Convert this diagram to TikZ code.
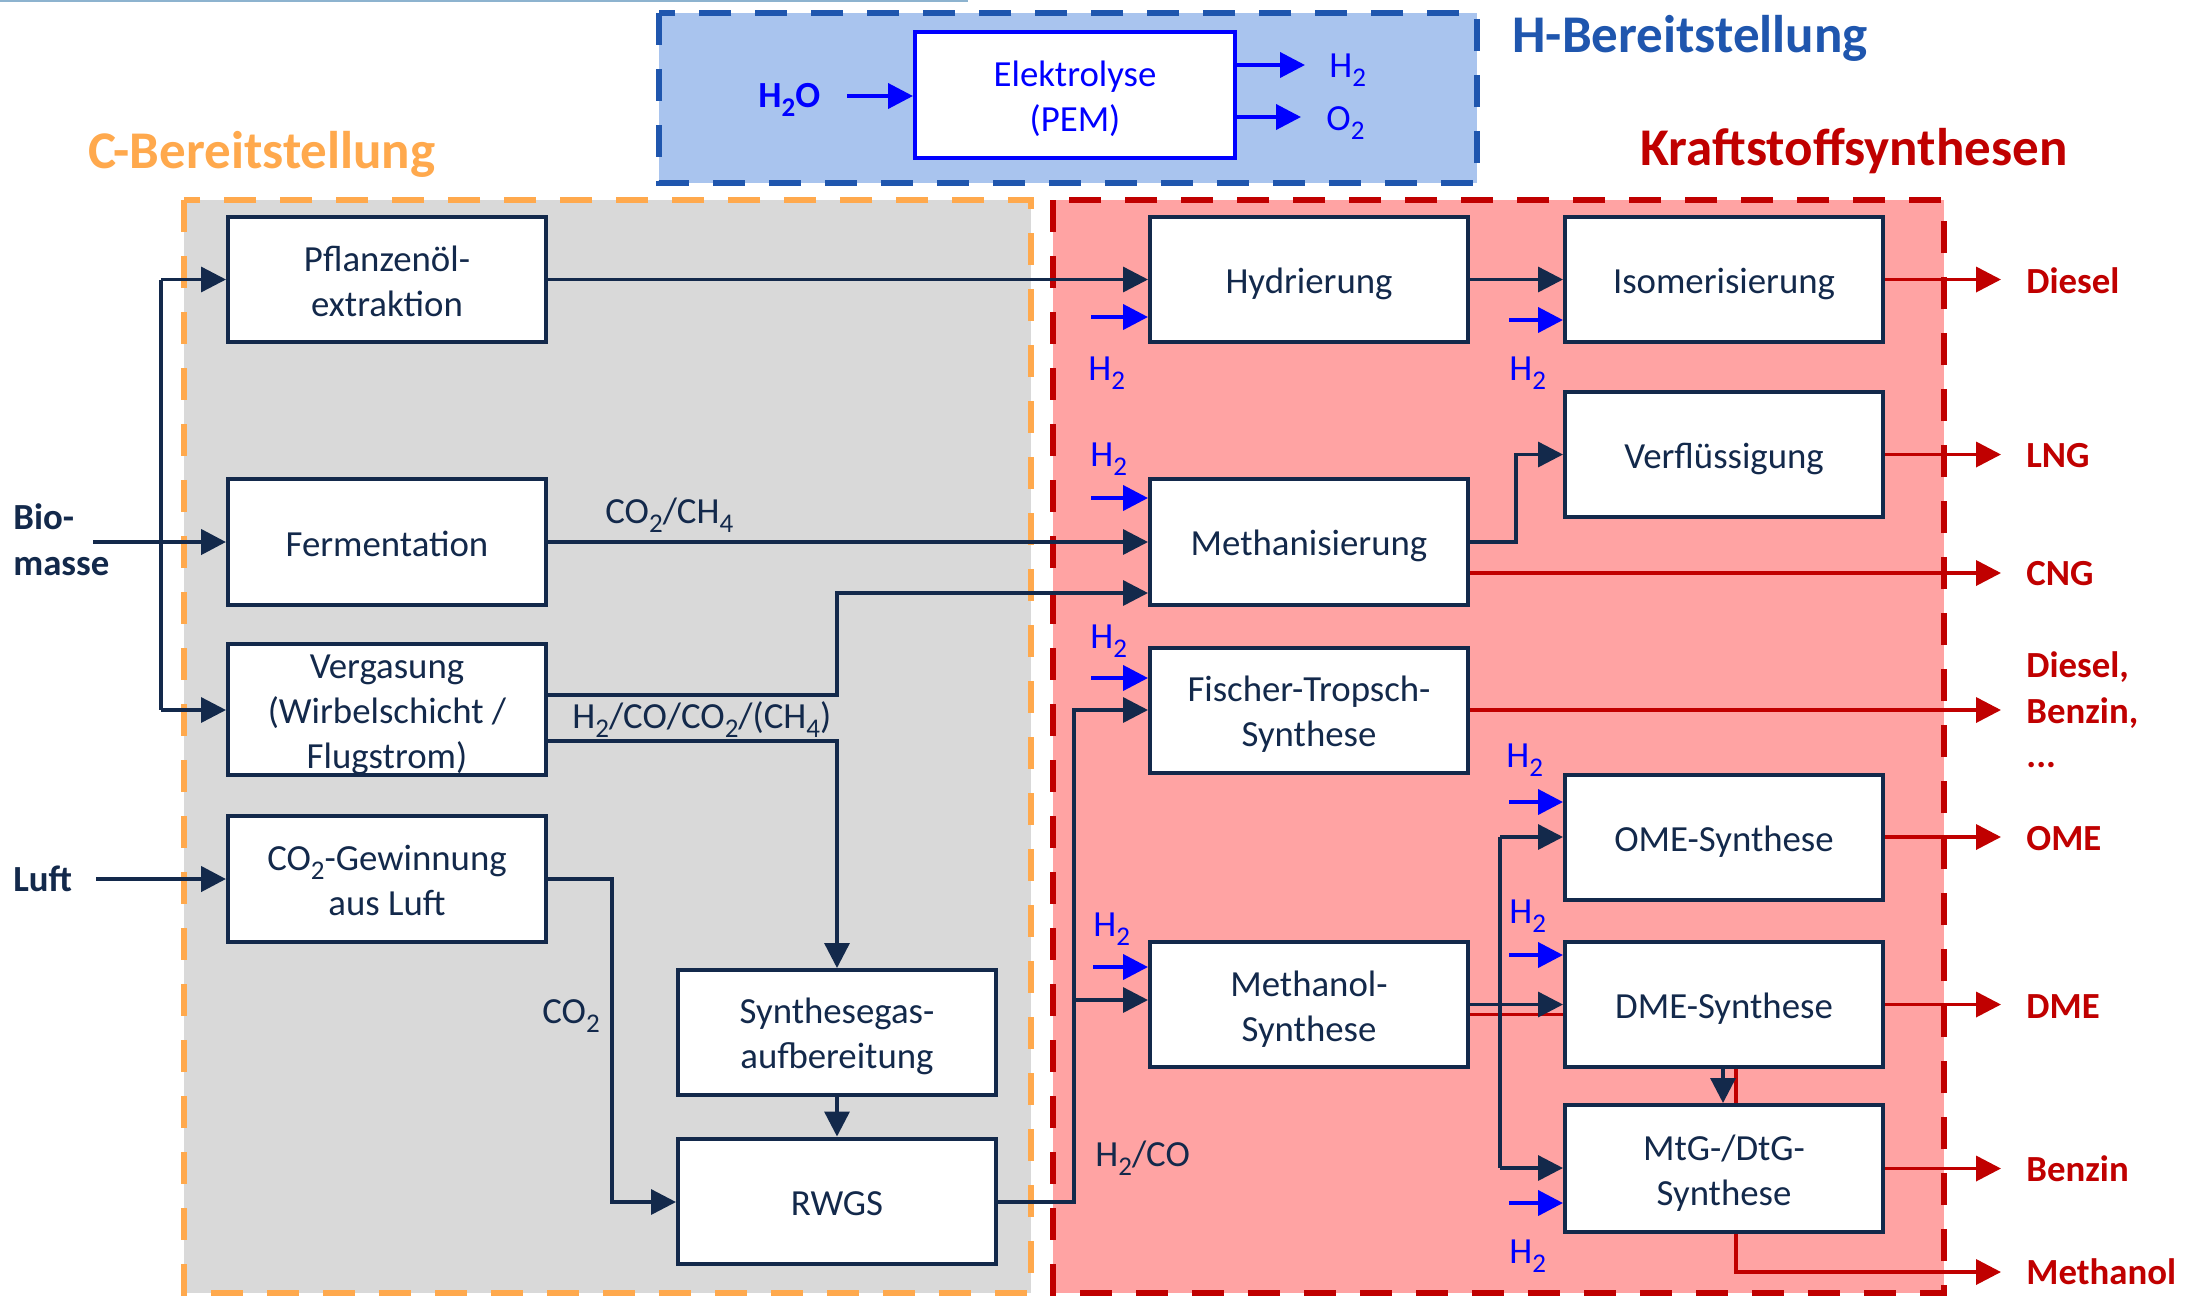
\documentclass[tikz,border=0pt]{standalone}
\usepackage{fontspec}
\setmainfont{Carlito}
\usetikzlibrary{arrows.meta,calc}
\definecolor{navy}{HTML}{13294B}
\definecolor{hblue}{HTML}{0000FF}
\definecolor{kred}{HTML}{C00000}
\definecolor{dblue}{HTML}{1F56AE}
\definecolor{lblue}{HTML}{A9C4EE}
\definecolor{corange}{HTML}{FFA94D}
\definecolor{cgray}{HTML}{D9D9D9}
\definecolor{cpink}{HTML}{FFA3A3}
\definecolor{topline}{HTML}{8DB3CF}
\newcommand\bxfont{\fontsize{18.4pt}{22.5pt}\selectfont}
\newcommand\ttlfont{\fontsize{26.5pt}{32pt}\selectfont\bfseries}
\newcommand\lowsub[1]{\raisebox{-4.5pt}{\fontsize{13.5pt}{13.5pt}\selectfont #1}}
\newcommand\tstrut{\rule{0pt}{17pt}}
\newcommand\bstrut{\rule[-3pt]{0pt}{3pt}}
\begin{document}
\begin{tikzpicture}[x=0.5pt,y=-0.5pt,
  tip/.tip={Triangle[length=12.5pt,width=12.5pt]},
  box/.style={draw=navy,line width=2pt,fill=white,minimum width=159pt,minimum height=62.5pt,inner sep=0pt,align=center,font=\bxfont,text=navy},
  frame/.style={line width=3pt,dash pattern=on 16pt off 12pt},
  con/.style={draw=navy,line width=1.7pt},
  arr/.style={con,-tip},
  inarr/.style={draw=navy,line width=2.25pt,-tip},
  h2arr/.style={draw=hblue,line width=2pt,-tip},
  outarr/.style={draw=kred,line width=1.8pt,-tip},
  redline/.style={draw=kred,line width=1.8pt},
  lbl/.style={anchor=base west,inner sep=0pt,font=\bxfont,text=navy},
  h2lbl/.style={lbl,text=hblue},
  blbl/.style={lbl,font=\bxfont\bfseries},
  outlbl/.style={lbl,font=\bxfont\bfseries,text=kred},
  ttl/.style={anchor=base west,inner sep=0pt,font=\ttlfont}]
\useasboundingbox (0,0) rectangle (2194,1297);
\fill[white] (0,0) rectangle (2194,1297);
\draw[topline,line width=1pt] (0,1) -- (968,1);
% containers
\path[fill=lblue,draw=dblue,frame] (659,13) rectangle (1477,183);
\path[fill=cgray,draw=corange,frame] (184,200) rectangle (1031,1293);
\path[fill=cpink,draw=kred,frame] (1053,200) rectangle (1944,1293);
% titles
\node[ttl,text=corange] (tc) at (88,168) {C-Bereitstellung};
\node[ttl,text=dblue] (th) at (1512,52) {H-Bereitstellung};
\node[ttl,text=kred] (tk) at (1640,165) {Kraftstoffsynthesen};
% boxes
\node[box,draw=hblue,text=hblue,minimum width=160pt,minimum height=63pt] (elek) at (1075,95) {\tstrut Elektrolyse\\(PEM)\bstrut};
\node[box] (pfl) at (387,279.5) {\tstrut Pflanzenöl-\\extraktion\bstrut};
\node[box,minimum height=63pt] (ferm) at (387,542) {\tstrut Fermentation\bstrut};
\node[box] (verg) at (387,709.5) {\tstrut Vergasung\\(Wirbelschicht /\\Flugstrom)\bstrut};
\node[box,minimum height=63pt] (co2g) at (387,879) {\tstrut CO\lowsub{2}-Gewinnung\\aus Luft\bstrut};
\node[box] (syng) at (837,1032.5) {\tstrut Synthesegas-\\aufbereitung\bstrut};
\node[box] (rwgs) at (837,1201) {\tstrut RWGS\bstrut};
\node[box] (hydr) at (1309,279.5) {\tstrut Hydrierung\bstrut};
\node[box,minimum height=63pt] (meth) at (1309,542) {\tstrut Methanisierung\bstrut};
\node[box] (ft) at (1309,710) {\tstrut Fischer-Tropsch-\\Synthese\bstrut};
\node[box] (meoh) at (1309,1004.5) {\tstrut Methanol-\\Synthese\bstrut};
\node[box] (iso) at (1724,279.5) {\tstrut Isomerisierung\bstrut};
\node[box] (verf) at (1724,454.5) {\tstrut Verflüssigung\bstrut};
\node[box] (ome) at (1724,837) {\tstrut OME-Synthese\bstrut};
\node[box] (dme) at (1724,1004.5) {\tstrut DME-Synthese\bstrut};
\node[box,minimum height=63.5pt] (mtg) at (1724,1168.5) {\tstrut MtG-/DtG-\\Synthese\bstrut};
% H-Bereitstellung
\node[blbl,text=hblue] (h2o) at (758,107) {H\lowsub{2}O};
\coordinate (h2oa) at (847,96);
\draw[h2arr] (h2oa) -- (h2oa -| elek.west);
\coordinate (eh) at (1305,65);
\coordinate (eo) at (1301,117);
\draw[h2arr] (eh -| elek.east) -- (eh);
\draw[h2arr] (eo -| elek.east) -- (eo);
\node[h2lbl] (leh) at (1329,77) {H\lowsub{2}};
\node[h2lbl] (leo) at (1326,130) {O\lowsub{2}};
% inputs
\node[blbl] (bio1) at (13,529) {Bio-};
\node[blbl] (bio2) at (13,575) {masse};
\node[blbl] (luftl) at (13,891) {Luft};
\coordinate (bio) at (93,542);
\draw[inarr] (bio) -- (ferm.west);
\coordinate (fa) at (161,279.5);
\coordinate (fb) at (161,710);
\draw[con] (fa) -- (fb);
\draw[arr] (fa) -- (pfl.west);
\draw[arr] (fb) -- (fb -| verg.west);
\coordinate (luft) at (96,879);
\draw[inarr] (luft) -- (co2g.west);
% C-Bereitstellung connectors
\draw[arr] (pfl.east) -- (hydr.west);
\draw[arr] (ferm.east) -- (meth.west);
\node[lbl] (lch4) at (605,523) {CO\lowsub{2}/CH\lowsub{4}};
\coordinate (v1) at (837,695);
\coordinate (v2) at (837,593);
\draw[arr] (v1 -| verg.east) -- (v1) -- (v2) -- (v2 -| meth.west);
\coordinate (v3) at (837,741);
\draw[arr] (v3 -| verg.east) -- (v3) -- (syng.north);
\node[lbl] (lsyn) at (572,728) {H\lowsub{2}/CO/CO\lowsub{2}/(CH\lowsub{4})};
\coordinate (c1) at (612,879);
\coordinate (c2) at (612,1202);
\draw[arr] (co2g.east) -- (c1) -- (c2) -- (c2 -| rwgs.west);
\node[lbl] (lco2) at (542,1023) {CO\lowsub{2}};
\draw[arr] (syng.south) -- (rwgs.north);
\coordinate (r1) at (1074,1202);
\coordinate (r2) at (1074,710);
\coordinate (r3) at (1074,1000);
\draw[arr] (r1 -| rwgs.east) -- (r1) -- (r2) -- (r2 -| ft.west);
\draw[arr] (r3) -- (r3 -| meoh.west);
\node[lbl] (lhco) at (1095,1166) {H\lowsub{2}/CO};
% synthesis connectors
\draw[arr] (hydr.east) -- (iso.west);
\coordinate (m1) at (1516,542);
\coordinate (m2) at (1516,454.5);
\draw[arr] (meth.east) -- (m1) -- (m2) -- (verf.west);
\draw[redline] ([yshift=-5pt]meoh.east) -- ([yshift=-5pt]dme.west);
\draw[arr] (meoh.east) -- (dme.west);
\coordinate (o1) at (1500,837);
\coordinate (o2) at (1500,1168);
\draw[con] (o1) -- (o2);
\draw[arr] (o1) -- (o1 -| ome.west);
\draw[arr] (o2) -- (o2 -| mtg.west);
\draw[redline] ([xshift=6pt]dme.south) -- ([xshift=6pt]mtg.north);
\draw[arr] ([xshift=-0.5pt]dme.south) -- ([xshift=-0.5pt]mtg.north);
% H2 feeds
\coordinate (hh) at (1091,317);
\coordinate (hi) at (1509,320);
\coordinate (hm) at (1091,498);
\coordinate (hf) at (1091,678);
\coordinate (hmo) at (1093,967);
\coordinate (ho) at (1509,802);
\coordinate (hd) at (1509,955);
\coordinate (hg) at (1509,1203);
\draw[h2arr] (hh) -- (hh -| hydr.west);
\draw[h2arr] (hi) -- (hi -| iso.west);
\draw[h2arr] (hm) -- (hm -| meth.west);
\draw[h2arr] (hf) -- (hf -| ft.west);
\draw[h2arr] (hmo) -- (hmo -| meoh.west);
\draw[h2arr] (ho) -- (ho -| ome.west);
\draw[h2arr] (hd) -- (hd -| dme.west);
\draw[h2arr] (hg) -- (hg -| mtg.west);
\node[h2lbl] (lhh) at (1088,380) {H\lowsub{2}};
\node[h2lbl] (lhi) at (1509,380) {H\lowsub{2}};
\node[h2lbl] (lhm) at (1090,466) {H\lowsub{2}};
\node[h2lbl] (lhf) at (1090,648) {H\lowsub{2}};
\node[h2lbl] (lhmo) at (1093,936) {H\lowsub{2}};
\node[h2lbl] (lho) at (1506,767) {H\lowsub{2}};
\node[h2lbl] (lhd) at (1509,923) {H\lowsub{2}};
\node[h2lbl] (lhg) at (1509,1263) {H\lowsub{2}};
% outputs
\coordinate (odi) at (2001,279.5);
\coordinate (olng) at (2001,454.5);
\coordinate (ocng) at (2001,573);
\coordinate (oft) at (2001,710);
\coordinate (oome) at (2001,837);
\coordinate (odme) at (2001,1004.5);
\coordinate (obz) at (2001,1168.5);
\coordinate (omeoh) at (2001,1272);
\draw[outarr] (odi -| iso.east) -- (odi);
\draw[outarr] (olng -| verf.east) -- (olng);
\draw[outarr] (ocng -| meth.east) -- (ocng);
\draw[outarr] (oft -| ft.east) -- (oft);
\draw[outarr] (oome -| ome.east) -- (oome);
\draw[outarr] (odme -| dme.east) -- (odme);
\draw[outarr] (obz -| mtg.east) -- (obz);
\draw[outarr] ([xshift=6pt]mtg.south) |- (omeoh);
\node[outlbl] (ldi) at (2026,293) {Diesel};
\node[outlbl] (llng) at (2026,467) {LNG};
\node[outlbl] (lcng) at (2026,585) {CNG};
\node[outlbl] (lft1) at (2026,677) {Diesel,};
\node[outlbl] (lft2) at (2026,723) {Benzin,};
\node[outlbl] (lft3) at (2026,767) {...};
\node[outlbl] (lome) at (2026,850) {OME};
\node[outlbl] (ldme) at (2026,1018) {DME};
\node[outlbl] (lbz) at (2026,1181) {Benzin};
\node[outlbl] (lmeoh) at (2026,1284) {Methanol};
\end{tikzpicture}
\end{document}
